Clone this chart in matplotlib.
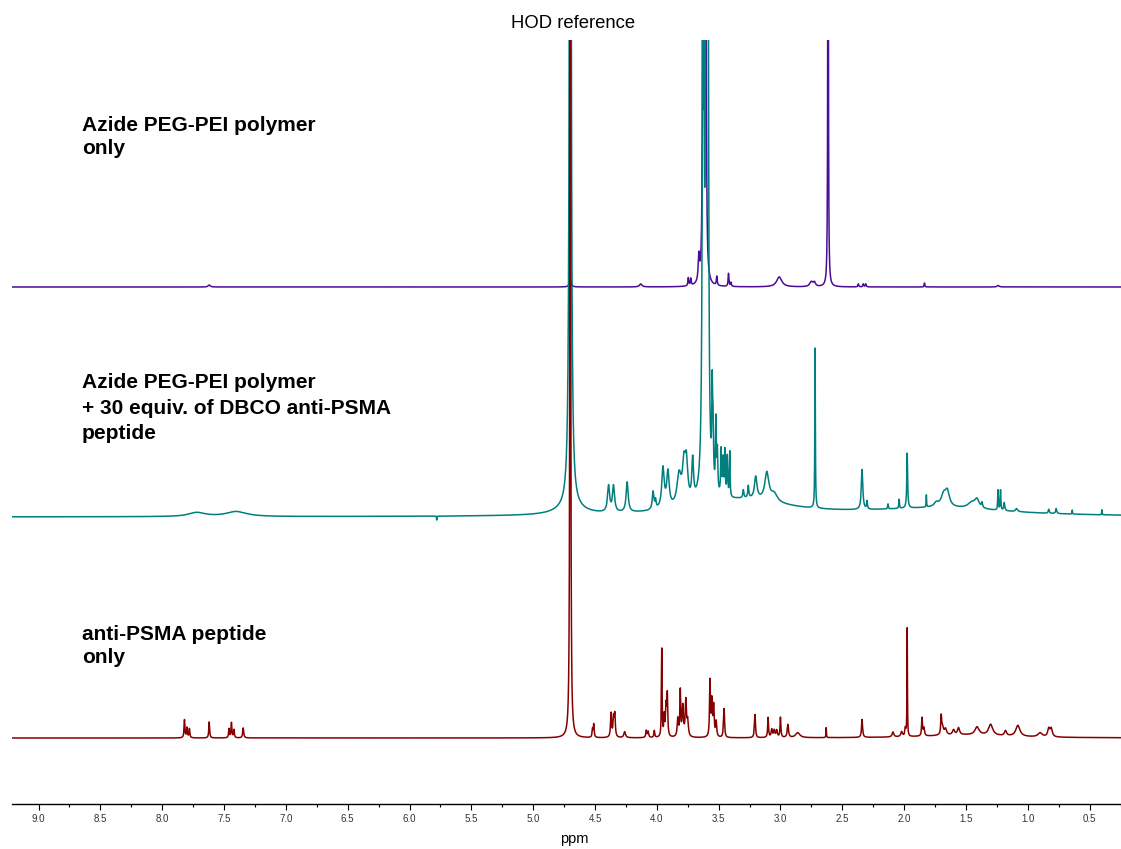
import numpy as np
import matplotlib
matplotlib.use("Agg")
import matplotlib.pyplot as plt
from matplotlib.ticker import MultipleLocator

plt.rcParams['font.family'] = ['Liberation Sans', 'DejaVu Sans']

# ---------------- data: peak lists ----------------
# Azide PEG-PEI polymer only (ppm, height, half-width)
poly_ppm = [7.62, 4.70, 4.13, 3.745, 3.725, 3.66, 3.625, 3.605, 3.515, 3.42, 3.40,
            3.01, 2.75, 2.725, 2.615, 2.37, 2.33, 2.31, 1.835, 1.24]
poly_h = [2, 8, 3, 8, 7, 25, 1500, 1500, 9, 13, 4,
          10, 5, 4, 600, 3, 3, 3, 4, 1.5]
poly_w = [0.01, 0.008, 0.012, 0.004, 0.004, 0.006, 0.0025, 0.0025, 0.004, 0.004, 0.004,
          0.025, 0.015, 0.01, 0.0026, 0.004, 0.004, 0.004, 0.003, 0.01]

# Azide PEG-PEI polymer + DBCO anti-PSMA peptide
conj_ppm = [7.72, 7.40, 5.78, 4.70, 4.70, 4.39, 4.35, 4.24, 4.03, 4.01, 3.95, 3.91,
            3.82, 3.78, 3.76, 3.71, 3.625, 3.60, 3.585, 3.552, 3.545, 3.522, 3.51,
            3.48, 3.465, 3.45, 3.43, 3.41, 3.30, 3.30, 3.26, 3.20, 3.11, 3.05,
            2.72, 2.34, 2.30, 2.13, 2.04, 1.975, 1.82, 1.74, 1.70, 1.68, 1.65,
            1.45, 1.41, 1.37, 1.24, 1.22, 1.19, 1.09, 0.83, 0.77, 0.64, 0.40]
conj_h = [4, 5, -4, 1500, 8, 26, 26, 30, 18, 8, 40, 35,
          30, 38, 36, 40, 800, 800, 500, 90, 50, 70, 40,
          45, 35, 45, 40, 45, 16, 8, 12, 22, 28, 8,
          160, 40, 8, 5, 9, 55, 12, 4, 8, 12, 14,
          6, 8, 5, 20, 20, 8, 3, 4, 5, 4, 5]
conj_w = [0.08, 0.10, 0.002, 0.006, 0.12, 0.01, 0.01, 0.01, 0.008, 0.005, 0.012, 0.012,
          0.02, 0.015, 0.012, 0.008, 0.006, 0.006, 0.005, 0.004, 0.004, 0.004, 0.004,
          0.004, 0.004, 0.004, 0.004, 0.003, 0.45, 0.005, 0.005, 0.012, 0.02, 0.03,
          0.0025, 0.007, 0.004, 0.003, 0.003, 0.004, 0.002, 0.02, 0.7, 0.025, 0.02,
          0.04, 0.02, 0.005, 0.003, 0.003, 0.005, 0.01, 0.005, 0.005, 0.002, 0.002]

# anti-PSMA peptide only
pep_ppm = [7.82, 7.80, 7.78, 7.62, 7.46, 7.44, 7.42, 7.345, 4.70, 4.52, 4.51,
           4.37, 4.35, 4.34, 4.26, 4.085, 4.07, 4.02, 3.96, 3.94, 3.925, 3.915,
           3.83, 3.81, 3.79, 3.765, 3.75, 3.57, 3.555, 3.54, 3.52, 3.46, 3.455,
           3.21, 3.205, 3.10, 3.07, 3.05, 3.03, 3.00, 2.94, 2.86, 2.63, 2.34,
           2.09, 2.02, 1.99, 1.975, 1.855, 1.84, 1.70, 1.69, 1.665, 1.60, 1.56,
           1.41, 1.30, 1.18, 1.08, 0.90, 0.83, 0.81, 1.50]
pep_h = [18, 10, 9, 16, 9, 15, 8, 10, 1500, 8, 13,
         24, 18, 22, 6, 7, 6, 7, 88, 20, 30, 40,
         18, 45, 30, 36, 15, 55, 35, 30, 15, 10, 25,
         8, 20, 20, 8, 7, 7, 20, 13, 5, 10, 18,
         5, 5, 8, 108, 18, 8, 17, 8, 6, 5, 7,
         8, 11, 5, 11, 4, 8, 8, 3]
pep_w = [0.004, 0.004, 0.004, 0.004, 0.004, 0.004, 0.004, 0.005, 0.0027, 0.004, 0.004,
         0.005, 0.005, 0.005, 0.008, 0.005, 0.005, 0.004, 0.003, 0.004, 0.005, 0.004,
         0.006, 0.004, 0.006, 0.006, 0.006, 0.004, 0.005, 0.005, 0.005, 0.004, 0.004,
         0.004, 0.004, 0.004, 0.006, 0.006, 0.006, 0.004, 0.006, 0.02, 0.002, 0.005,
         0.008, 0.008, 0.005, 0.002, 0.004, 0.006, 0.004, 0.01, 0.01, 0.01, 0.01,
         0.02, 0.02, 0.01, 0.02, 0.02, 0.01, 0.01, 0.4]

x_ticks = [9.0, 8.5, 8.0, 7.5, 7.0, 6.5, 6.0, 5.5, 5.0, 4.5, 4.0, 3.5, 3.0, 2.5, 2.0, 1.5, 1.0, 0.5]
labels = ["Azide PEG-PEI polymer\nonly",
          "Azide PEG-PEI polymer\n+ 30 equiv. of DBCO anti-PSMA\npeptide",
          "anti-PSMA peptide\nonly"]

# ---------------- build traces ----------------
ppm = np.arange(0.24, 9.23, 0.0005)

def spectrum(pos, h, w):
    y = np.zeros_like(ppm)
    for p, a, g in zip(pos, h, w):
        y += a * g**2 / ((ppm - p)**2 + g**2)
    return y

traces = [
    (spectrum(poly_ppm, poly_h, poly_w), 517, '#4B0C96'),
    (spectrum(conj_ppm, conj_h, conj_w), 287, '#007F7F'),
    (spectrum(pep_ppm, pep_h, pep_w), 66, '#850000'),
]

W, H = 1121, 849
fig = plt.figure(figsize=(W / 100, H / 100), dpi=100)
ax = fig.add_axes([12 / W, 1 - 804 / H, 1 - 12 / W, (804 - 40) / H])

for y, off, col in traces:
    ax.plot(ppm, y + off, color=col, lw=1.1)

ax.set_xlim(9.215, 0.246)
ax.set_ylim(0, 764)
for s in ['left', 'right', 'top']:
    ax.spines[s].set_visible(False)
ax.spines['bottom'].set_linewidth(1.0)
ax.set_yticks([])
ax.set_xticks(x_ticks)
ax.set_xticklabels([f"{t:.1f}" for t in x_ticks])
ax.xaxis.set_minor_locator(MultipleLocator(0.25))
ax.tick_params(axis='x', which='major', length=4.5, width=0.8, labelsize=7, labelcolor='#333333', pad=3)
ax.tick_params(axis='x', which='minor', length=2.2, width=0.8)
ax.set_xlabel("ppm", fontsize=10.5)
ax.xaxis.set_label_coords((574 - 12) / (W - 12), -0.036)

label_y = [1 - 137 / H, 1 - 408 / H, 1 - 646 / H]
label_ls = [1.25, 1.45, 1.25]
for txt, yy, ls in zip(labels, label_y, label_ls):
    fig.text(82 / W, yy, txt, fontsize=15, fontweight='bold', ha='left', va='center',
             linespacing=ls)

fig.text(573 / W, 1 - 23 / H, "HOD reference", fontsize=13.3, ha='center', va='center')

fig.savefig("out.png", dpi=100)
